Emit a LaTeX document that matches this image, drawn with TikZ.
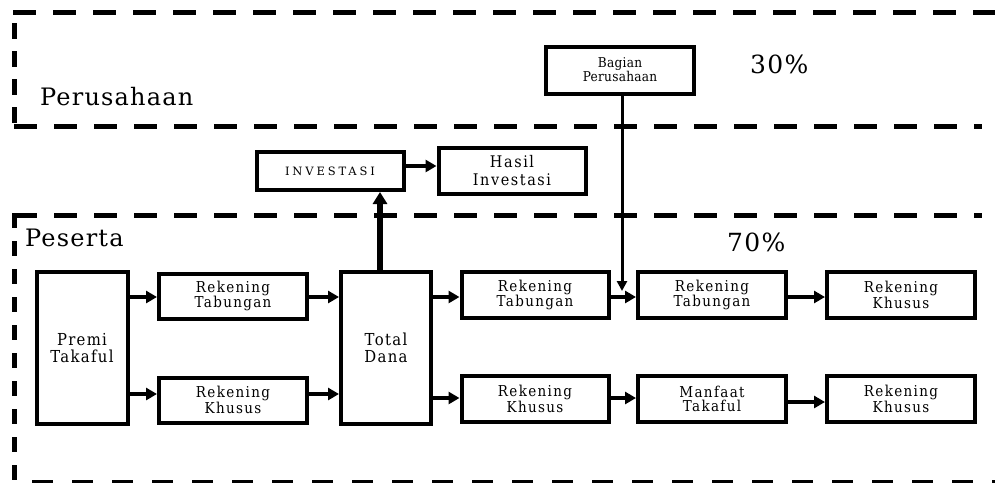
\documentclass[tikz,border=0pt]{standalone}
\usepackage{fontspec}
\setmainfont{DejaVu Serif}
\newfontfamily\boxfont[FakeStretch=0.9,LetterSpace=9]{DejaVu Serif}
\newfontfamily\bagfont[FakeStretch=0.9,LetterSpace=2]{DejaVu Serif}
\newfontfamily\bigfont[FakeStretch=0.9,LetterSpace=8]{DejaVu Serif}
\newfontfamily\hasfont[FakeStretch=0.9,LetterSpace=10]{DejaVu Serif}
\newfontfamily\capfont[LetterSpace=25]{DejaVu Serif}
\newfontfamily\lblfont[LetterSpace=5]{DejaVu Serif}
\usetikzlibrary{arrows.meta,calc}
\begin{document}
\begin{tikzpicture}[x=1pt,y=-1pt,
  bx/.style={draw,line width=4pt,inner sep=0pt,align=center,font=\boxfont\fontsize{15}{14.5}\selectfont},
  arr/.style={line width=4.5pt,-{Triangle[length=11pt,width=12pt]}},
  dsh/.style={line width=5pt,dash pattern=on 23pt off 17pt},
  lbl/.style={inner sep=0pt,anchor=base west,font=\lblfont\fontsize{24}{26}\selectfont}]
\useasboundingbox (0,0) rectangle (995,482);
% dashed regions
\draw[dsh] (13,12) -- (995,12);
\draw[line width=5pt,dash pattern=on 16pt off 12pt] (14,23) -- (14,127);
\draw[dsh] (14,126) -- (982,126);
\draw[dsh] (14,215) -- (982,215);
\draw[line width=5pt,dash pattern=on 15pt off 13pt] (14,213) -- (14,482);
\draw[line width=5pt,dash pattern=on 21pt off 19pt] (32,482) -- (995,482);
% labels
\node[lbl] (perus) at (40,105) {Perusahaan};
\node[lbl] (pes) at (25,246) {Peserta};
\node[lbl,font=\lblfont\fontsize{25}{27}\selectfont] (p30) at (750,73) {30\%};
\node[lbl,font=\lblfont\fontsize{25}{27}\selectfont] (p70) at (727,251) {70\%};
% nodes
\node[bx,minimum width=148pt,minimum height=47pt,font=\bagfont\fontsize{13.5}{14}\selectfont] (bag) at (620,70) {Bagian\\Perusahaan};
\node[bx,minimum width=147pt,minimum height=38pt,font=\capfont\fontsize{11.5}{14}\selectfont] (inv) at (330,171) {INVESTASI};
\node[bx,minimum width=147pt,minimum height=46pt,font=\hasfont\fontsize{16}{18}\selectfont] (has) at (512,171) {Hasil\\Investasi};
\node[bx,minimum width=91pt,minimum height=152pt,font=\bigfont\fontsize{16.5}{17}\selectfont] (premi) at (82,348) {Premi\\Takaful};
\node[bx,minimum width=148pt,minimum height=45pt] (rt1) at (233,296) {Rekening\\Tabungan};
\node[bx,minimum width=148pt,minimum height=45pt] (rk1) at (233,400) {Rekening\\Khusus};
\node[bx,minimum width=90pt,minimum height=152pt,font=\bigfont\fontsize{16.5}{17}\selectfont] (total) at (386,348) {Total\\Dana};
\node[bx,minimum width=147pt,minimum height=46pt] (rt2) at (535,295) {Rekening\\Tabungan};
\node[bx,minimum width=147pt,minimum height=46pt] (rk2) at (535,399) {Rekening\\Khusus};
\node[bx,minimum width=148pt,minimum height=46pt] (rt3) at (712,295) {Rekening\\Tabungan};
\node[bx,minimum width=148pt,minimum height=46pt] (mt) at (712,399) {Manfaat\\Takaful};
\node[bx,minimum width=148pt,minimum height=46pt] (rk3) at (901,295) {Rekening\\Khusus};
\node[bx,minimum width=148pt,minimum height=46pt] (rk4) at (901,399) {Rekening\\Khusus};
% arrows
\draw[arr] (premi.east |- 0,297) -- (rt1.west |- 0,297);
\draw[arr] (premi.east |- 0,394) -- (rk1.west |- 0,394);
\draw[arr] (rt1.east |- 0,297) -- (total.west |- 0,297);
\draw[arr] (rk1.east |- 0,394) -- (total.west |- 0,394);
\draw[arr] (total.east |- 0,297) -- (rt2.west |- 0,297);
\draw[arr] (total.east |- 0,398) -- (rk2.west |- 0,398);
\draw[arr] (rt2.east |- 0,297) -- (rt3.west |- 0,297);
\draw[arr] (rk2.east |- 0,398) -- (mt.west |- 0,398);
\draw[arr] (rt3.east |- 0,297) -- (rk3.west |- 0,297);
\draw[arr] (mt.east |- 0,402) -- (rk4.west |- 0,402);
\draw[line width=6.5pt,-{Triangle[length=12pt,width=14pt]}] (total.north -| 380,0) -- (inv.south -| 380,0);
\draw[arr] (inv.east |- 0,166) -- (has.west |- 0,166);
\coordinate (bagend) at (622,291);
\draw[line width=3pt,-{Triangle[length=10pt,width=10pt]}] (bag.south -| 622,0) -- (bagend);
\end{tikzpicture}
\end{document}
